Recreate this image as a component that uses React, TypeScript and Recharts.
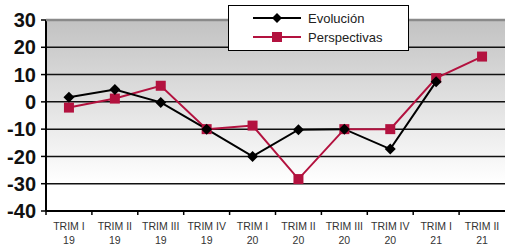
import React from "react";
import { LineChart, Line, XAxis, YAxis, CartesianGrid } from "recharts";

const quarters = ["TRIM I", "TRIM II", "TRIM III", "TRIM IV", "TRIM I", "TRIM II", "TRIM III", "TRIM IV", "TRIM I", "TRIM II"];
const years = ["19", "19", "19", "19", "20", "20", "20", "20", "21", "21"];
const evolucion: (number | null)[] = [1.7, 4.5, -0.2, -10, -20, -10.2, -10, -17.3, 7.4, null];
const perspectivas: number[] = [-2.1, 1.2, 5.9, -10, -8.7, -28.3, -10, -10, 8.7, 16.6];
const yTicks = [-40, -30, -20, -10, 0, 10, 20, 30];

const data = quarters.map((q, i) => ({
  key: `${q} ${years[i]} #${i}`,
  q,
  yr: years[i],
  evolucion: evolucion[i],
  perspectivas: perspectivas[i],
}));

const W = 505;
const H = 247;
const M = { top: 20, right: 0, bottom: 0, left: 0 };
const XH = 36;
const YW = 46;
const BW = (W - YW - M.right) / quarters.length;
const RED = "#b3123f";

const XTick = (props: any) => {
  const { x, y, index } = props;
  const d = data[index];
  return (
    <g>
      <line x1={x - BW / 2} x2={x - BW / 2} y1={y} y2={y + 4} stroke="#000" strokeWidth={1.5} />
      <text x={x} y={y + 19} textAnchor="middle" fontSize={10.5} fill="#333" fontFamily="'Liberation Sans', Arial, sans-serif">
        {d ? d.q : ""}
      </text>
      <text x={x} y={y + 33} textAnchor="middle" fontSize={10.5} fill="#333" fontFamily="'Liberation Sans', Arial, sans-serif">
        {d ? d.yr : ""}
      </text>
    </g>
  );
};

const Diamond = (props: any) => {
  const { cx, cy } = props;
  if (cx == null || cy == null || props.value == null) return <g />;
  const s = 5.5;
  return <path d={`M${cx},${cy - s}L${cx + s},${cy}L${cx},${cy + s}L${cx - s},${cy}Z`} fill="#000" />;
};

const Square = (props: any) => {
  const { cx, cy } = props;
  if (cx == null || cy == null) return <g />;
  const s = 5;
  return <rect x={cx - s} y={cy - s} width={2 * s} height={2 * s} fill={RED} />;
};

const LegendBox = () => (
  <div
    style={{
      position: "absolute",
      left: 228,
      top: 5,
      width: 181,
      height: 46,
      border: "1px solid #000",
      background: "#fff",
      boxSizing: "border-box",
      fontFamily: "'Liberation Sans', Arial, sans-serif",
      fontSize: 13,
      color: "#222",
    }}
  >
    {[
      { name: "Evolución", color: "#000", shape: "d" },
      { name: "Perspectivas", color: RED, shape: "s" },
    ].map((it, i) => (
      <div key={i} style={{ position: "absolute", left: 24, top: 4 + i * 19, height: 16, display: "flex", alignItems: "center" }}>
        <svg width={50} height={16} style={{ display: "block" }}>
          <line x1={0} x2={48} y1={8} y2={8} stroke={it.color} strokeWidth={2} />
          {it.shape === "d" ? (
            <path d="M24,3L29,8L24,13L19,8Z" fill="#000" />
          ) : (
            <rect x={19} y={3} width={10} height={10} fill={RED} />
          )}
        </svg>
        <span style={{ marginLeft: 5 }}>{it.name}</span>
      </div>
    ))}
  </div>
);

export default function App() {
  return (
    <div style={{ position: "absolute", left: 0, top: 0, width: W, height: H }}>
      <LineChart width={W} height={H} data={data} margin={M}>
        <defs>
          <linearGradient id="bg" x1="0" y1="0" x2="0" y2="1">
            <stop offset="0%" stopColor="#c2c2c2" />
            <stop offset="85%" stopColor="#ffffff" />
            <stop offset="100%" stopColor="#ffffff" />
          </linearGradient>
        </defs>
        <CartesianGrid vertical={false} fill="url(#bg)" fillOpacity={1} stroke="#111" strokeWidth={1.5} />
        <XAxis
          dataKey="key"
          scale="band"
          interval={0}
          tick={<XTick />}
          tickLine={false}
          tickSize={0}
          tickMargin={0}
          axisLine={{ stroke: "#000", strokeWidth: 2 }}
          height={XH}
        />
        <YAxis
          domain={[-40, 30]}
          ticks={yTicks}
          interval={0}
          width={YW}
          tickSize={5}
          tickMargin={5}
          tickLine={{ stroke: "#000", strokeWidth: 1.5 }}
          axisLine={{ stroke: "#000", strokeWidth: 2 }}
          tick={{ fontSize: 20, fontWeight: 700, fill: "#111", fontFamily: "'Liberation Sans', Arial, sans-serif" }}
        />
        <Line
          type="linear"
          dataKey="perspectivas"
          stroke={RED}
          strokeWidth={2}
          dot={<Square />}
          activeDot={false}
          isAnimationActive={false}
        />
        <Line
          type="linear"
          dataKey="evolucion"
          stroke="#000"
          strokeWidth={2}
          dot={<Diamond />}
          activeDot={false}
          connectNulls={false}
          isAnimationActive={false}
        />
      </LineChart>
      <svg width={W} height={H} style={{ position: "absolute", left: 0, top: 0, pointerEvents: "none" }}>
        <line x1={YW} x2={W} y1={M.top} y2={M.top} stroke="#8a8a8a" strokeWidth={2.5} />
      </svg>
      <LegendBox />
    </div>
  );
}
